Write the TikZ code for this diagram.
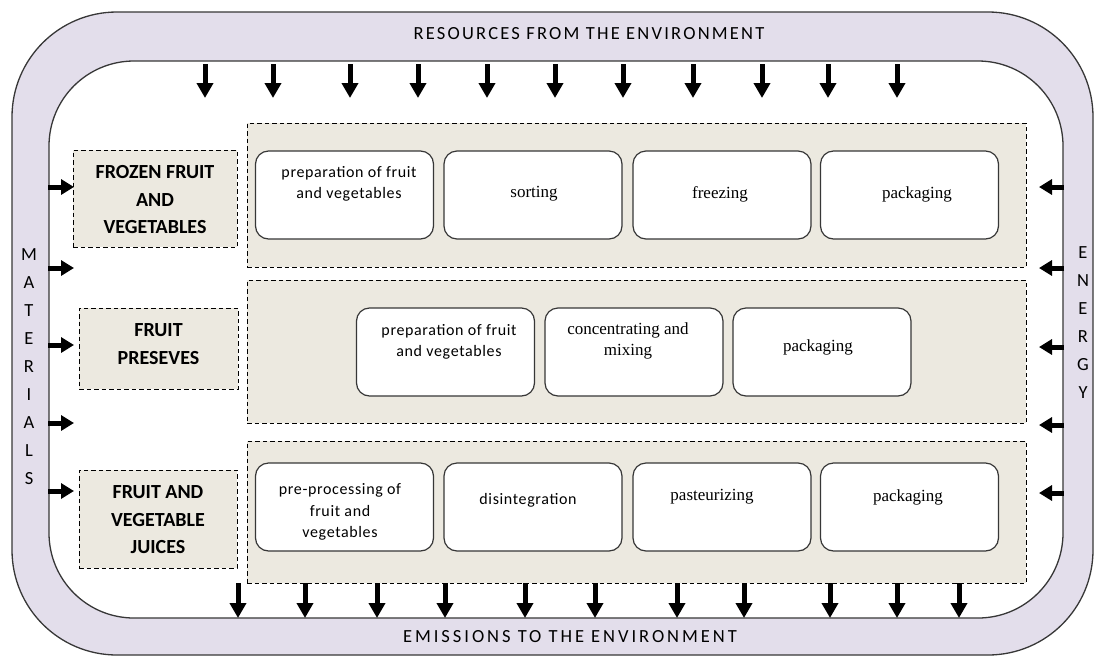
\documentclass[tikz,border=0pt]{standalone}
\usepackage{fontspec}
\newfontfamily\carl{Carlito}
\newfontfamily\carlsp[LetterSpace=12]{Carlito}
\newfontfamily\carlspb[LetterSpace=16]{Carlito}
\newfontfamily\carlp[LetterSpace=4]{Carlito}
\newfontfamily\serf{Liberation Serif}
\usetikzlibrary{arrows.meta}
\definecolor{band}{RGB}{227,222,235}
\definecolor{beige}{RGB}{236,233,224}
\definecolor{edge}{RGB}{55,55,55}
\tikzset{
  catbox/.style={draw=black, dash pattern=on 4.5pt off 3pt, fill=beige, line width=1pt, inner sep=0pt},
  grpbox/.style={draw=black, dash pattern=on 4.5pt off 3pt, fill=beige, line width=1pt, inner sep=0pt},
  procbox/.style={draw=edge, fill=white, rounded corners=13pt, line width=1.2pt, inner sep=0pt,
                  minimum width=178pt, minimum height=88pt},
  cattext/.style={align=center, inner sep=0pt, font=\carl\bfseries\fontsize{20}{27.5}\selectfont},
  sanstext/.style={align=center, inner sep=0pt, font=\carlp\fontsize{16}{21.5}\selectfont},
  seriftext/.style={align=center, inner sep=0pt, font=\serf\fontsize{17}{21}\selectfont},
  bandtext/.style={inner sep=0pt, font=\carlsp\fontsize{18.5}{22}\selectfont},
  bandtextb/.style={inner sep=0pt, font=\carlspb\fontsize{18.5}{22}\selectfont},
  lettertext/.style={inner sep=0pt, font=\carl\fontsize{18.5}{22}\selectfont},
  varr/.style={line width=5pt, -{Triangle[width=16pt,length=15pt]}},
  harr/.style={line width=5pt, -{Triangle[width=15pt,length=13pt]}}
}
\begin{document}
\begin{tikzpicture}[x=1pt,y=-1pt]
\useasboundingbox (0,0) rectangle (1096,657);
% band
\draw[draw=edge, fill=band, line width=1.3pt, rounded corners=105pt] (12,12) rectangle (1093,655);
\draw[draw=edge, fill=white, line width=1.3pt, rounded corners=85pt] (49,61) rectangle (1063,618);
% band texts
\node[bandtext] (res) at (589,34) {RESOURCES FROM THE ENVIRONMENT};
\node[bandtextb] (emi) at (570,637) {EMISSIONS TO THE ENVIRONMENT};
\foreach \l [count=\i from 0] in {M,A,T,E,R,I,A,L,S}
  \node[lettertext] (mat\i) at (29,255+28*\i) {\l};
\foreach \l [count=\i from 0] in {E,N,E,R,G,Y}
  \node[lettertext] (ene\i) at (1083,253+28*\i) {\l};
% groups
\node[grpbox, minimum width=779pt, minimum height=144pt] (g1) at (636.5,195) {};
\node[grpbox, minimum width=779pt, minimum height=143pt] (g2) at (636.5,351.5) {};
\node[grpbox, minimum width=779pt, minimum height=142pt] (g3) at (636.5,512) {};
% categories
\node[catbox, minimum width=164pt, minimum height=97pt] (c1) at (155,198.5) {};
\node[catbox, minimum width=159pt, minimum height=81pt] (c2) at (158.5,348.5) {};
\node[catbox, minimum width=158pt, minimum height=98pt] (c3) at (158,519) {};
\node[cattext] (c1t) at (155,200) {FROZEN FRUIT\\AND\\VEGETABLES};
\node[cattext] (c2t) at (158.5,344) {FRUIT\\PRESEVES};
\node[cattext] (c3t) at (158,520) {FRUIT AND\\VEGETABLE\\JUICES};
% row 1
\node[procbox] (p11) at (344.5,195) {};
\node[procbox] (p12) at (533,195) {};
\node[procbox] (p13) at (722,195) {};
\node[procbox] (p14) at (909.5,195) {};
\node[sanstext] (t11) at (349,184) {preparation of fruit\\and vegetables};
\node[seriftext] (t12) at (534,194) {sorting};
\node[seriftext] (t13) at (720,194) {freezing};
\node[seriftext] (t14) at (917,194) {packaging};
% row 2
\node[procbox] (p21) at (445.5,352) {};
\node[procbox] (p22) at (634,352) {};
\node[procbox] (p23) at (822,352) {};
\node[sanstext] (t21) at (449,342) {preparation of fruit\\and vegetables};
\node[seriftext] (t22) at (628,341) {concentrating and\\mixing};
\node[seriftext] (t23) at (818,347) {packaging};
% row 3
\node[procbox] (p31) at (344.5,507) {};
\node[procbox] (p32) at (533,507) {};
\node[procbox] (p33) at (722,507) {};
\node[procbox] (p34) at (909.5,507) {};
\node[sanstext] (t31) at (340,512) {pre-processing of\\fruit and\\vegetables};
\node[sanstext] (t32) at (528,500) {disintegration};
\node[seriftext] (t33) at (712,497) {pasteurizing};
\node[seriftext] (t34) at (908,497) {packaging};
% top arrows
\foreach \x [count=\i] in {205,273,350,418,487,555,623,693,762,828,897}{
  \coordinate (ts\i) at (\x,64); \coordinate (te\i) at (\x,98);
  \draw[varr] (ts\i) -- (te\i);}
% bottom arrows
\foreach \x [count=\i] in {238,305,377,445,525,595,677,744,830,897,959}{
  \coordinate (bs\i) at (\x,583); \coordinate (be\i) at (\x,618);
  \draw[varr] (bs\i) -- (be\i);}
% left arrows
\foreach \y [count=\i] in {187,268,345,423,491}{
  \coordinate (ls\i) at (48,\y); \coordinate (le\i) at (74,\y);
  \draw[harr] (ls\i) -- (le\i);}
% right arrows
\foreach \y [count=\i] in {187,268,347,425,493}{
  \coordinate (rs\i) at (1064,\y); \coordinate (re\i) at (1039,\y);
  \draw[harr] (rs\i) -- (re\i);}
\end{tikzpicture}
\end{document}
